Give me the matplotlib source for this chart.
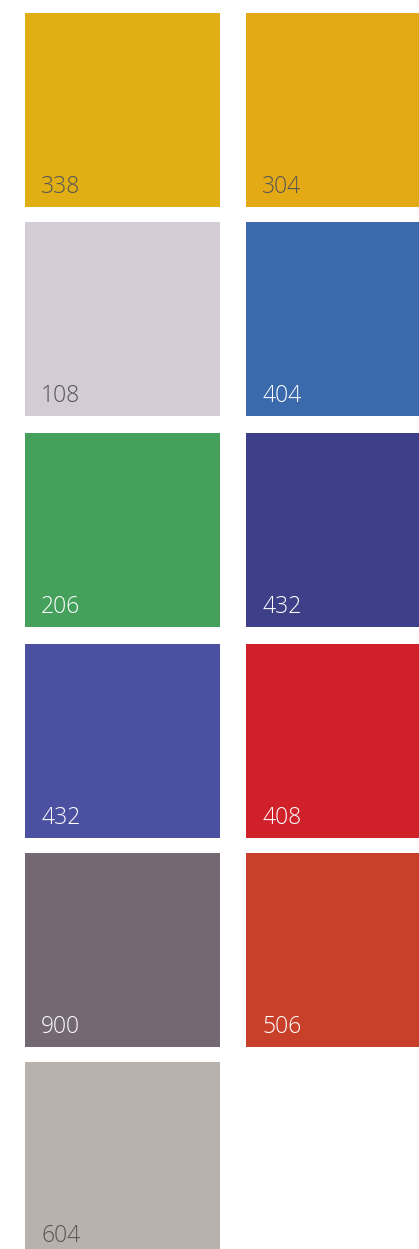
import matplotlib
matplotlib.use("Agg")
import matplotlib.pyplot as plt

codes = ["338", "304", "108", "404", "206", "432", "432", "408", "900", "506", "604"]
colors = ["#E1AF14", "#E4AA16", "#D3CCD7", "#3A69AC", "#44A05B", "#3D3F88",
          "#4C50A0", "#D0202A", "#736873", "#C8402A", "#B9B1AC"]
text_colors = ["#555555", "#555555", "#555555", "#FFFFFF", "#FFFFFF", "#FFFFFF",
               "#FFFFFF", "#FFFFFF", "#FFFFFF", "#FFFFFF", "#555555"]

W, H = 419, 1249
fig = plt.figure(figsize=(W / 100, H / 100), dpi=100)
ax = fig.add_axes([0, 0, 1, 1])
ax.set_xlim(0, W)
ax.set_ylim(H, 0)
ax.axis("off")

col_x = [25, 246]
col_w = [195, 195]
row_y = [13, 222, 433, 644, 853, 1062]
sw_h = 194

for i, (code, c, tc) in enumerate(zip(codes, colors, text_colors)):
    r, k = divmod(i, 2)
    x0 = col_x[k]
    y0 = row_y[r]
    ax.bar(x0, sw_h, width=col_w[k], bottom=y0, align="edge", color=c, linewidth=0)
    ax.text(x0 + 16, y0 + 180, code, color=tc, fontsize=16.5, family="Open Sans",
            fontweight="light", ha="left", va="baseline")

fig.savefig("out.png", dpi=100)
